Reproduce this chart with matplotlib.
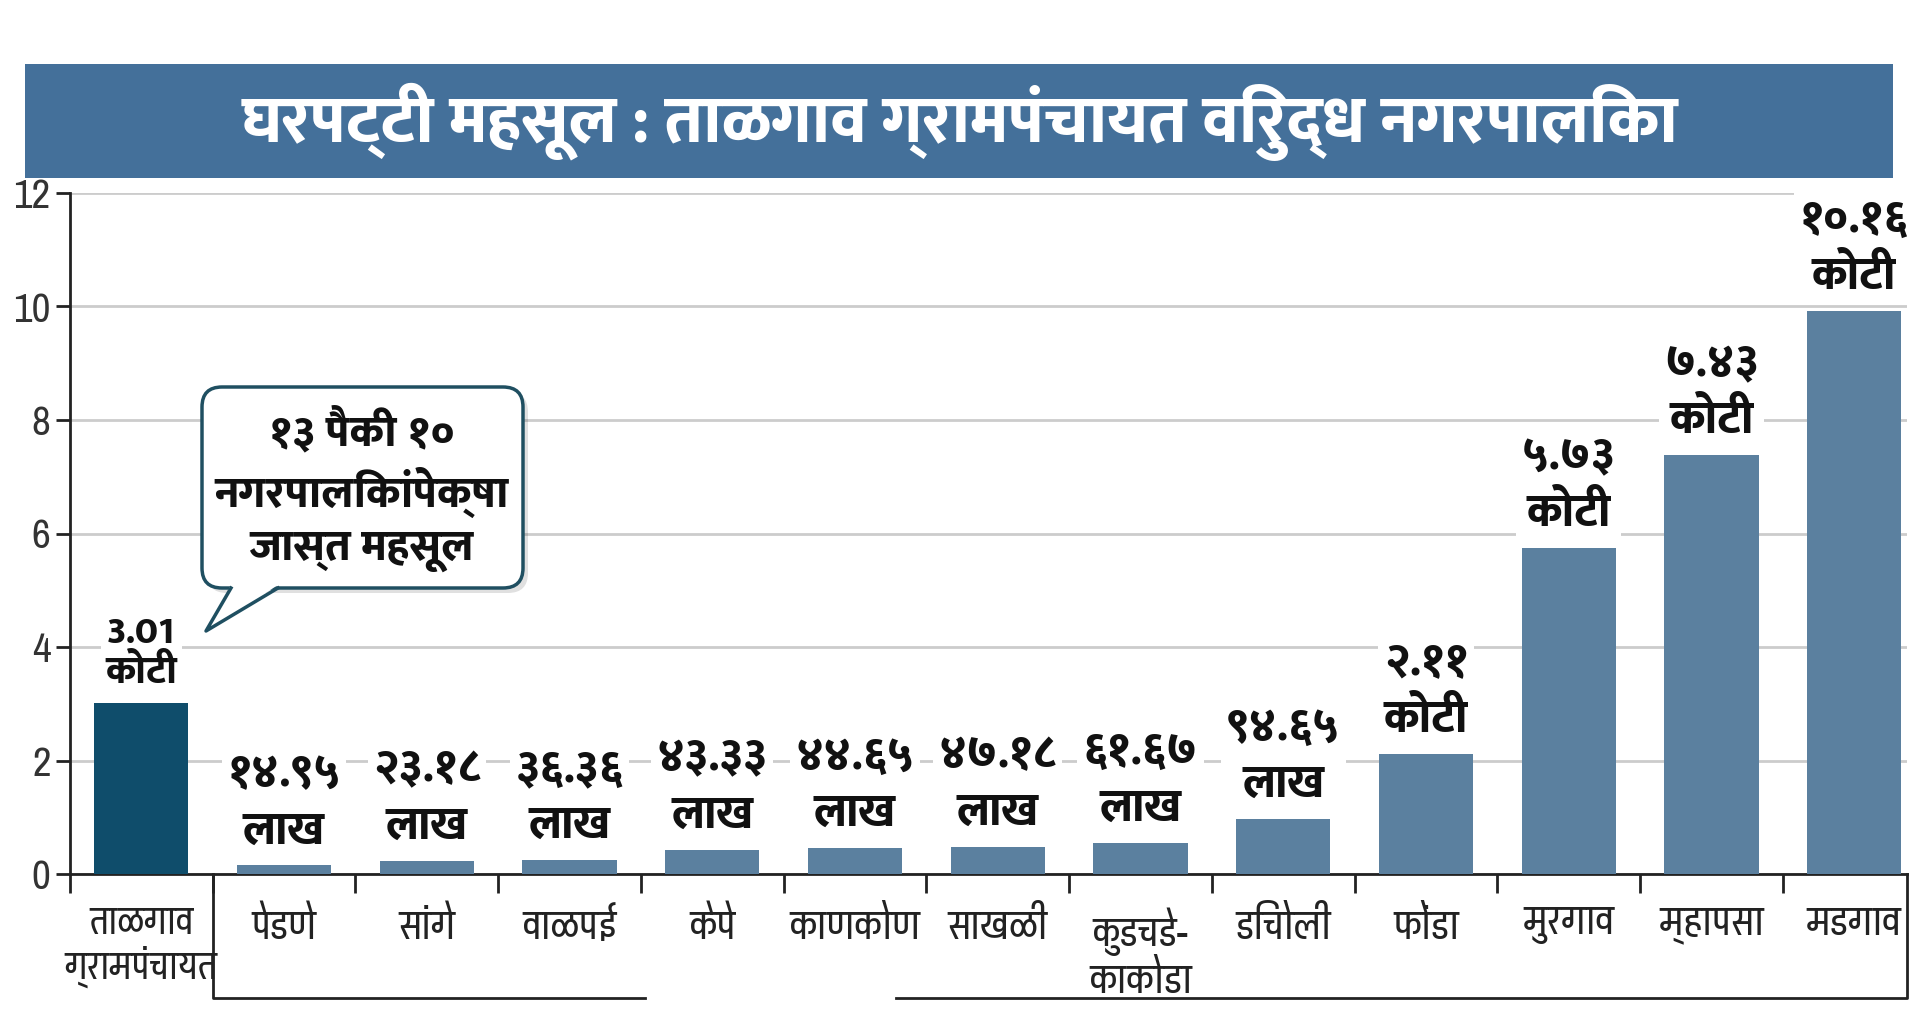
import matplotlib
matplotlib.use("Agg")
import numpy as np
import matplotlib.pyplot as plt
from matplotlib.patches import FancyBboxPatch, Polygon, Rectangle
from matplotlib.lines import Line2D

# ---------------- data ----------------
categories = ["ताळगाव\nग्रामपंचायत", "पेडणे", "सांगे", "वाळपई", "केपे", "काणकोण",
              "साखळी", "कुडचडे-\nकाकोडा", "डिचोली", "फोंडा", "मुरगाव", "म्हापसा", "मडगाव"]
values = [3.01, 0.15, 0.23, 0.24, 0.43, 0.46, 0.48, 0.55, 0.97, 2.12, 5.74, 7.38, 9.92]
amounts = ["3.01", "१४.९५", "२३.१८", "३६.३६", "४३.३३", "४४.६५", "४७.१८", "६१.६७",
           "९४.६५", "२.११", "५.७३", "७.४३", "१०.१६"]
units = ["कोटी", "लाख", "लाख", "लाख", "लाख", "लाख", "लाख", "लाख", "लाख",
         "कोटी", "कोटी", "कोटी", "कोटी"]
yticks = [0, 2, 4, 6, 8, 10, 12]
title = "घरपट्टी महसूल : ताळगाव ग्रामपंचायत विरुद्ध नगरपालिका"
callout = "१३ पैकी १०\nनगरपालिकांपेक्षा\nजास्त महसूल"

# ---------------- fonts ----------------
REG = ["Pragati Narrow", "DejaVu Sans"]
BOLD = ["Mukta", "DejaVu Sans"]
plt.rcParams["font.family"] = REG

W, H = 1920, 1022
fig = plt.figure(figsize=(W / 100, H / 100), dpi=100)
fig.patch.set_facecolor("white")

def fx(px):
    return px / W

def fy(py):
    return 1 - py / H

# title banner
fig.add_artist(Rectangle((fx(25), fy(178)), fx(1893) - fx(25), fy(64) - fy(178),
                         transform=fig.transFigure, facecolor="#44709a", edgecolor="none"))
fig.text(0.5, fy(122), title, color="white", fontsize=48, fontweight=800, family=BOLD,
         ha="center", va="center")

# axes
ax = fig.add_axes([fx(70), fy(874), fx(1907) - fx(70), fy(193) - fy(874)])
x = np.arange(len(categories))
colors = ["#0f4d6b"] + ["#5b809f"] * (len(categories) - 1)
ax.bar(x, values, width=0.66, color=colors, zorder=3)
ax.set_xlim(-0.5, 12.37)
ax.set_ylim(0, 12)
ax.set_yticks(yticks)
ax.set_yticklabels([str(t) for t in yticks], fontsize=32, color="#333333")
ax.yaxis.grid(True, color="#cccccc", lw=2)
ax.set_axisbelow(True)
for s in ["top", "right"]:
    ax.spines[s].set_visible(False)
for s in ["left", "bottom"]:
    ax.spines[s].set_color("#222222")
    ax.spines[s].set_linewidth(2)
ax.set_xticks(x - 0.5)
ax.set_xticklabels([""] * len(x))
ax.set_xticks(x, minor=True)
ax.set_xticklabels(categories, minor=True, fontsize=31, color="#222222", linespacing=1.15)
ax.get_xticklabels(minor=True)[0].set_fontsize(29)
ax.tick_params(axis="x", which="major", length=14, width=2, color="#222222", direction="out")
ax.tick_params(axis="x", which="minor", length=0, pad=24)
ax.tick_params(axis="y", length=10, width=2, color="#222222", pad=4)

# value labels
for i, (v, a, u) in enumerate(zip(values, amounts, units)):
    fs = 28 if i == 0 else 33
    ax.annotate(a + "\n" + u, xy=(i, v), xytext=(0, 8), textcoords="offset points",
                ha="center", va="bottom", fontsize=fs, fontweight=800, family=BOLD,
                color="#111111", linespacing=1.1 if i == 0 else 1.4, zorder=5,
                bbox=dict(boxstyle="square,pad=0.12", facecolor="white", edgecolor="none"))

# brackets under the axis
tr = ax.get_xaxis_transform()
yb = (874 - 998) / (874 - 193)
ax.add_line(Line2D([0.5, 0.5, 3.53], [0, yb, yb], transform=tr, color="#222222", lw=2,
                   clip_on=False))
ax.add_line(Line2D([5.29, 12.37, 12.37], [yb, yb, 0], transform=tr, color="#222222", lw=2,
                   clip_on=False))

# callout bubble (pixel coords -> inches)
def I(px, py):
    return (px / 100, (H - py) / 100)

t = fig.dpi_scale_trans
bx0, by0, bx1, by1 = 202, 387, 523, 588
shadow = FancyBboxPatch(I(bx0 + 5, by1 + 5), (bx1 - bx0) / 100, (by1 - by0) / 100,
                        boxstyle="round,pad=0,rounding_size=0.2", transform=t,
                        facecolor="#000000", alpha=0.12, edgecolor="none", zorder=8)
fig.add_artist(shadow)
box = FancyBboxPatch(I(bx0, by1), (bx1 - bx0) / 100, (by1 - by0) / 100,
                     boxstyle="round,pad=0,rounding_size=0.2", transform=t,
                     facecolor="white", edgecolor="#1f4f61", lw=2.5, zorder=9)
fig.add_artist(box)
tail = Polygon([I(231, by1 - 3), I(278, by1 - 3), I(206, 631)], closed=True, transform=t,
               facecolor="white", edgecolor="none", zorder=10)
fig.add_artist(tail)
fig.add_artist(Line2D([I(231, by1)[0], I(206, 631)[0], I(278, by1)[0]],
                      [I(231, by1)[1], I(206, 631)[1], I(278, by1)[1]],
                      transform=t, color="#1f4f61", lw=2.5, zorder=11))
fig.text(fx(362), fy(490), callout, ha="center", va="center", family=BOLD,
         fontsize=32, fontweight=800, color="#111111", linespacing=1.3, zorder=12)

fig.savefig("out.png", dpi=100, facecolor="white")
